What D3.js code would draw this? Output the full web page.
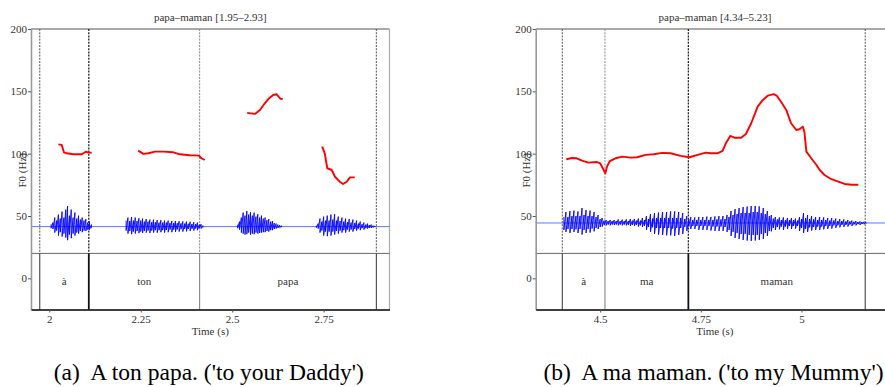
<!DOCTYPE html>
<html>
<head>
<meta charset="utf-8">
<script src="https://cdn.jsdelivr.net/npm/d3@7"></script>
<style>
  body { margin: 0; background: #fff; }
  svg { display: block; }
  text { font-family: "Liberation Serif", "Times New Roman", serif; }
  .caption { white-space: pre; }
</style>
</head>
<body>
<svg id="chart" width="885" height="387"></svg>
<script>
// ---------------- data ----------------
const f0Ticks = [0, 50, 100, 150, 200];

// Panel (a): "A ton papa."
const titleA = "papa–maman [1.95–2.93]";
const captionA = "(a)  A ton papa. ('to your Daddy')";
const rangeA = [1.95, 2.93];
const timeTicksA = [2, 2.25, 2.5, 2.75];
const boundariesA = [1.974, 2.108, 2.411, 2.894];
const labelsA = ["à", "ton", "papa"];
const pitchA = [
  [[2.025,107.5],[2.034,107],[2.040,101.1],[2.048,100.3],[2.066,99.5],[2.089,99.5],[2.100,101.6],[2.107,100.8],[2.116,100.8]],
  [[2.243,102.4],[2.257,99.8],[2.271,100.3],[2.289,101.6],[2.312,101.6],[2.339,101.1],[2.357,99.5],[2.384,98.7],[2.409,98.4],[2.416,96.3],[2.425,94.9]],
  [[2.541,132.7],[2.562,131.9],[2.576,135],[2.589,140.4],[2.601,144.5],[2.612,147.1],[2.621,147.7],[2.628,145.3],[2.632,144],[2.638,143.9]],
  [[2.746,105.6],[2.753,100.3],[2.760,88.3],[2.772,86.9],[2.781,81.5],[2.794,77.5],[2.803,75.7],[2.813,77.5],[2.822,81],[2.835,81]]
];
// sound amplitude, min/max per sample: [time, max, min]
const soundA = [
  [[2.005,0.12,-0.08],[2.010,0.20,-0.12],[2.015,0.45,-0.30],[2.020,0.30,-0.20],[2.025,0.60,-0.45],[2.030,0.40,-0.28],
   [2.035,0.75,-0.50],[2.040,0.45,-0.35],[2.045,0.85,-0.55],[2.050,1.03,-0.68],[2.055,0.55,-0.40],[2.060,0.85,-0.58],
   [2.065,0.45,-0.35],[2.070,0.70,-0.45],[2.075,0.40,-0.30],[2.080,0.55,-0.35],[2.085,0.35,-0.22],[2.090,0.45,-0.28],
   [2.095,0.30,-0.20],[2.100,0.37,-0.22],[2.105,0.20,-0.15],[2.110,0.25,-0.15],[2.115,0.10,-0.08]],
  [[2.210,0.30,-0.20],[2.215,0.45,-0.35],[2.220,0.28,-0.22],[2.225,0.48,-0.38],[2.230,0.30,-0.25],[2.235,0.45,-0.35],
   [2.240,0.28,-0.22],[2.245,0.42,-0.33],[2.250,0.30,-0.25],[2.255,0.40,-0.32],[2.260,0.25,-0.22],[2.265,0.38,-0.30],
   [2.270,0.25,-0.20],[2.275,0.35,-0.32],[2.280,0.22,-0.20],[2.285,0.35,-0.30],[2.290,0.22,-0.18],[2.295,0.33,-0.30],
   [2.300,0.20,-0.18],[2.305,0.32,-0.28],[2.310,0.20,-0.18],[2.315,0.30,-0.30],[2.320,0.20,-0.17],[2.325,0.30,-0.28],
   [2.330,0.18,-0.15],[2.335,0.28,-0.28],[2.340,0.18,-0.15],[2.345,0.28,-0.26],[2.350,0.17,-0.14],[2.355,0.27,-0.25],
   [2.360,0.16,-0.13],[2.365,0.26,-0.25],[2.370,0.15,-0.12],[2.375,0.25,-0.24],[2.380,0.14,-0.12],[2.385,0.24,-0.22],
   [2.390,0.13,-0.11],[2.395,0.22,-0.20],[2.400,0.12,-0.10],[2.405,0.20,-0.18],[2.410,0.10,-0.08],[2.415,0.12,-0.10],
   [2.420,0.05,-0.05]],
  [[2.515,0.10,-0.08],[2.520,0.25,-0.15],[2.525,0.45,-0.30],[2.530,0.70,-0.35],[2.535,0.55,-0.40],[2.540,0.78,-0.38],
   [2.545,0.60,-0.30],[2.550,0.72,-0.40],[2.555,0.55,-0.35],[2.560,0.70,-0.38],[2.565,0.50,-0.30],[2.570,0.62,-0.35],
   [2.575,0.45,-0.32],[2.580,0.55,-0.30],[2.585,0.40,-0.28],[2.590,0.45,-0.28],[2.595,0.32,-0.22],[2.600,0.38,-0.25],
   [2.605,0.25,-0.18],[2.610,0.28,-0.18],[2.615,0.18,-0.12],[2.620,0.15,-0.10],[2.625,0.10,-0.07],[2.630,0.07,-0.05],
   [2.635,0.04,-0.03]],
  [[2.730,0.05,-0.05],[2.735,0.15,-0.10],[2.740,0.40,-0.30],[2.745,0.25,-0.20],[2.750,0.50,-0.45],[2.755,0.30,-0.25],
   [2.760,0.55,-0.48],[2.765,0.30,-0.25],[2.770,0.60,-0.45],[2.775,0.35,-0.25],[2.780,0.62,-0.40],[2.785,0.30,-0.22],
   [2.790,0.50,-0.35],[2.795,0.28,-0.20],[2.800,0.45,-0.30],[2.805,0.25,-0.18],[2.810,0.40,-0.30],[2.815,0.22,-0.15],
   [2.820,0.38,-0.25],[2.825,0.20,-0.15],[2.830,0.35,-0.25],[2.835,0.18,-0.12],[2.840,0.30,-0.20],[2.845,0.15,-0.10],
   [2.850,0.25,-0.18],[2.855,0.12,-0.08],[2.860,0.20,-0.15],[2.865,0.10,-0.08],[2.870,0.15,-0.10],[2.875,0.08,-0.06],
   [2.880,0.10,-0.07],[2.885,0.05,-0.04],[2.890,0.03,-0.02]]
];

// Panel (b): "A ma maman."
const titleB = "papa–maman [4.34–5.23]";
const captionB = "(b)  A ma maman. ('to my Mummy')";
const rangeB = [4.34, 5.23];
const timeTicksB = [4.5, 4.75, 5];
const boundariesB = [4.406, 4.512, 4.719, 5.158];
const labelsB = ["à", "ma", "maman"];
const pitchB = [
  [[4.416,95.5],[4.430,96.5],[4.442,96.3],[4.455,94.4],[4.471,92.8],[4.492,93.3],[4.500,92.3],[4.513,84.3],[4.517,89.6],
   [4.524,94.1],[4.538,96.3],[4.555,97.6],[4.575,96.8],[4.592,97.1],[4.613,99],[4.633,99.5],[4.654,100.6],[4.675,100.3],
   [4.700,98.2],[4.722,97.1],[4.742,99],[4.762,100.8],[4.775,100.3],[4.791,100.3],[4.804,102.2],[4.812,108.3],[4.823,114.2],
   [4.833,112.8],[4.850,112.8],[4.862,115.8],[4.875,124.4],[4.891,137.7],[4.904,143.1],[4.916,146.5],[4.931,147.7],
   [4.939,146.3],[4.949,141.7],[4.962,135.1],[4.974,124.4],[4.987,119],[4.995,119.6],[5.003,121.7],[5.007,117.7],
   [5.012,101.6],[5.024,96.3],[5.037,90.9],[5.045,86.9],[5.057,82.9],[5.074,79.5],[5.091,77.5],[5.107,75.7],[5.124,75.1],
   [5.141,75.1]]
];
const soundB = [
  [[4.410,0.30,-0.35],[4.415,0.55,-0.45],[4.420,0.30,-0.30],[4.425,0.60,-0.50],[4.430,0.35,-0.30],[4.435,0.62,-0.45],
   [4.440,0.35,-0.32],[4.445,0.58,-0.50],[4.450,0.35,-0.30],[4.455,0.75,-0.58],[4.460,0.40,-0.35],[4.465,0.65,-0.50],
   [4.470,0.35,-0.30],[4.475,0.62,-0.48],[4.480,0.35,-0.28],[4.485,0.55,-0.42],[4.490,0.30,-0.25],[4.495,0.40,-0.30],
   [4.500,0.20,-0.20],[4.505,0.25,-0.18],[4.510,0.12,-0.10],[4.515,0.15,-0.12],[4.520,0.10,-0.08],[4.525,0.15,-0.12],
   [4.530,0.10,-0.08],[4.535,0.15,-0.10],[4.540,0.10,-0.08],[4.545,0.18,-0.12],[4.550,0.10,-0.08],[4.555,0.17,-0.12],
   [4.560,0.10,-0.08],[4.565,0.18,-0.12],[4.570,0.10,-0.10],[4.575,0.20,-0.15],[4.580,0.12,-0.10],[4.585,0.20,-0.15],
   [4.590,0.12,-0.10],[4.595,0.22,-0.18],[4.600,0.12,-0.12],[4.605,0.25,-0.20],[4.610,0.15,-0.15],[4.615,0.35,-0.35],
   [4.620,0.20,-0.20],[4.625,0.45,-0.45],[4.630,0.22,-0.22],[4.635,0.50,-0.55],[4.640,0.25,-0.25],[4.645,0.52,-0.58],
   [4.650,0.25,-0.25],[4.655,0.55,-0.60],[4.660,0.25,-0.25],[4.665,0.55,-0.62],[4.670,0.25,-0.25],[4.675,0.58,-0.62],
   [4.680,0.25,-0.28],[4.685,0.58,-0.65],[4.690,0.25,-0.25],[4.695,0.55,-0.60],[4.700,0.25,-0.25],[4.705,0.50,-0.55],
   [4.710,0.20,-0.20],[4.715,0.35,-0.40],[4.720,0.18,-0.18],[4.725,0.30,-0.30],[4.730,0.15,-0.15],[4.735,0.28,-0.30],
   [4.740,0.15,-0.15],[4.745,0.30,-0.35],[4.750,0.15,-0.15],[4.755,0.30,-0.35],[4.760,0.15,-0.15],[4.765,0.32,-0.35],
   [4.770,0.15,-0.15],[4.775,0.30,-0.38],[4.780,0.15,-0.18],[4.785,0.33,-0.40],[4.790,0.18,-0.18],[4.795,0.35,-0.40],
   [4.800,0.18,-0.18],[4.805,0.35,-0.40],[4.810,0.20,-0.20],[4.815,0.40,-0.45],[4.820,0.30,-0.35],[4.825,0.60,-0.65],
   [4.830,0.40,-0.45],[4.835,0.70,-0.75],[4.840,0.45,-0.50],[4.845,0.75,-0.80],[4.850,0.50,-0.55],[4.855,0.80,-0.85],
   [4.860,0.50,-0.55],[4.865,0.82,-0.88],[4.870,0.50,-0.60],[4.875,0.85,-0.90],[4.880,0.55,-0.60],[4.885,0.85,-0.88],
   [4.890,0.55,-0.60],[4.895,0.83,-0.85],[4.900,0.50,-0.55],[4.905,0.75,-0.80],[4.910,0.45,-0.50],[4.915,0.60,-0.65],
   [4.920,0.35,-0.40],[4.925,0.40,-0.42],[4.930,0.22,-0.25],[4.935,0.30,-0.35],[4.940,0.18,-0.20],[4.945,0.28,-0.32],
   [4.950,0.15,-0.18],[4.955,0.28,-0.35],[4.960,0.15,-0.18],[4.965,0.25,-0.30],[4.970,0.15,-0.15],[4.975,0.25,-0.30],
   [4.980,0.15,-0.15],[4.985,0.22,-0.28],[4.990,0.12,-0.15],[4.995,0.30,-0.40],[5.000,0.20,-0.25],[5.005,0.50,-0.50],
   [5.010,0.25,-0.30],[5.015,0.40,-0.45],[5.020,0.20,-0.22],[5.025,0.35,-0.38],[5.030,0.18,-0.20],[5.035,0.30,-0.35],
   [5.040,0.15,-0.18],[5.045,0.30,-0.35],[5.050,0.15,-0.18],[5.055,0.28,-0.32],[5.060,0.15,-0.15],[5.065,0.25,-0.30],
   [5.070,0.12,-0.15],[5.075,0.25,-0.28],[5.080,0.12,-0.12],[5.085,0.22,-0.25],[5.090,0.10,-0.12],[5.095,0.20,-0.22],
   [5.100,0.10,-0.10],[5.105,0.18,-0.20],[5.110,0.08,-0.10],[5.115,0.15,-0.18],[5.120,0.08,-0.08],[5.125,0.12,-0.15],
   [5.130,0.06,-0.08],[5.135,0.10,-0.12],[5.140,0.05,-0.06],[5.145,0.08,-0.10],[5.150,0.05,-0.05],[5.155,0.06,-0.06],
   [5.160,0.03,-0.03]]
];

// ---------------- drawing ----------------
const svg = d3.select("#chart");
const plotW = 358.5;
const plotTop = 29, plotBottom = 309.5;
const tierTopHz = 20;          // lower edge of the F0/sound area, top of the text tier

function drawPanel(p) {
  const x = d3.scaleLinear().domain(p.range).range([p.left, p.left + plotW]);
  const y = d3.scaleLinear().domain([-25, 200]).range([plotBottom, plotTop]);
  const sy = a => y(p.soundLevel + a * p.soundSpan);
  const g = svg.append("g");
  const cx = p.left + plotW / 2;

  // title
  g.append("text").attr("x", cx).attr("y", 21).attr("text-anchor", "middle")
    .attr("font-size", 11).attr("fill", "#333").text(p.title);

  // frame: top and right
  g.append("line").attr("x1", p.left).attr("x2", p.left + plotW)
    .attr("y1", plotTop).attr("y2", plotTop).attr("stroke", "#555").attr("stroke-width", 1);
  g.append("line").attr("x1", p.left + plotW).attr("x2", p.left + plotW)
    .attr("y1", plotTop).attr("y2", plotBottom).attr("stroke", "#aaa").attr("stroke-width", 1.2);

  // tier separator
  g.append("line").attr("x1", p.left).attr("x2", p.left + plotW)
    .attr("y1", y(tierTopHz)).attr("y2", y(tierTopHz)).attr("stroke", "#666").attr("stroke-width", 1);

  // interval boundaries: dotted over the signal area, solid inside the tier
  p.boundaries.forEach((b, i) => {
    const strong = i === p.strong, faint = i === p.faint;
    g.append("line").attr("x1", x(b)).attr("x2", x(b)).attr("y1", plotTop).attr("y2", y(tierTopHz))
      .attr("stroke", strong ? "#222" : faint ? "#888" : "#555")
      .attr("stroke-width", strong ? 1.3 : 1).attr("stroke-dasharray", "2,1.2");
    g.append("line").attr("x1", x(b)).attr("x2", x(b)).attr("y1", y(tierTopHz)).attr("y2", plotBottom)
      .attr("stroke", strong ? "#111" : faint ? "#777" : "#333")
      .attr("stroke-width", strong ? 1.8 : 1);
  });

  // interval labels
  p.labels.forEach((lab, i) => {
    g.append("text").attr("x", x((p.boundaries[i] + p.boundaries[i + 1]) / 2)).attr("y", 285)
      .attr("text-anchor", "middle").attr("font-size", 11).attr("fill", "#333").text(lab);
  });

  // sound: zero line then min/max envelope traces
  g.append("line").attr("x1", x(p.range[0])).attr("x2", x(p.range[1]))
    .attr("y1", sy(0)).attr("y2", sy(0)).attr("stroke", "#4a66ff").attr("stroke-width", 0.9);
  const wave = d3.line().x(d => x(d[0])).y(d => sy(d[1]));
  p.sound.forEach(seg => {
    const pts = [];
    seg.forEach(s => { pts.push([s[0], s[1]]); pts.push([s[0], s[2]]); });
    g.append("path").attr("d", wave(pts)).attr("fill", "none")
      .attr("stroke", "#0000ff").attr("stroke-width", 0.9);
  });

  // pitch contour
  const pl = d3.line().x(d => x(d[0])).y(d => y(d[1]));
  p.pitch.forEach(seg => {
    g.append("path").attr("d", pl(seg)).attr("fill", "none")
      .attr("stroke", "#ff0000").attr("stroke-width", 1.9).attr("stroke-linejoin", "round");
  });

  // left axis
  const ya = g.append("g").attr("transform", `translate(${p.left},0)`)
    .call(d3.axisLeft(y).tickValues(f0Ticks).tickSize(3).tickSizeOuter(0).tickPadding(1).tickFormat(d3.format("d")));
  ya.select(".domain").attr("stroke", "#999").attr("stroke-width", 1.6);
  ya.selectAll(".tick line").attr("stroke", "#555");
  ya.selectAll(".tick text").attr("font-size", 11).attr("fill", "#333");

  // bottom axis
  const xa = g.append("g").attr("transform", `translate(0,${plotBottom})`)
    .call(d3.axisBottom(x).tickValues(p.ticks).tickSize(3).tickSizeOuter(0).tickPadding(3).tickFormat(String));
  xa.select(".domain").attr("stroke", "#000").attr("stroke-width", 1.5);
  xa.selectAll(".tick line").attr("stroke", "#555");
  xa.selectAll(".tick text").attr("font-size", 11).attr("fill", "#333");

  // axis titles
  g.append("text").attr("transform", `translate(${p.left - 5.5},${(plotTop + plotBottom) / 2 + 1}) rotate(-90)`)
    .attr("text-anchor", "middle").attr("font-size", 11).attr("fill", "#333").text("F0 (Hz)");
  g.append("text").attr("x", cx).attr("y", 335).attr("text-anchor", "middle")
    .attr("font-size", 11).attr("fill", "#333").text("Time (s)");

  // caption
  g.append("text").attr("class", "caption").attr("x", cx - 1.5).attr("y", 380).attr("text-anchor", "middle")
    .attr("font-size", 23.5).attr("fill", "#000").text(p.caption);
}

drawPanel({ left: 31, range: rangeA, ticks: timeTicksA, title: titleA, caption: captionA,
  boundaries: boundariesA, labels: labelsA, pitch: pitchA, sound: soundA,
  soundLevel: 41.5, soundSpan: 16, strong: 1, faint: 2 });
drawPanel({ left: 535.7, range: rangeB, ticks: timeTicksB, title: titleB, caption: captionB,
  boundaries: boundariesB, labels: labelsB, pitch: pitchB, sound: soundB,
  soundLevel: 44.4, soundSpan: 16, strong: 2, faint: 1 });
</script>
</body>
</html>
